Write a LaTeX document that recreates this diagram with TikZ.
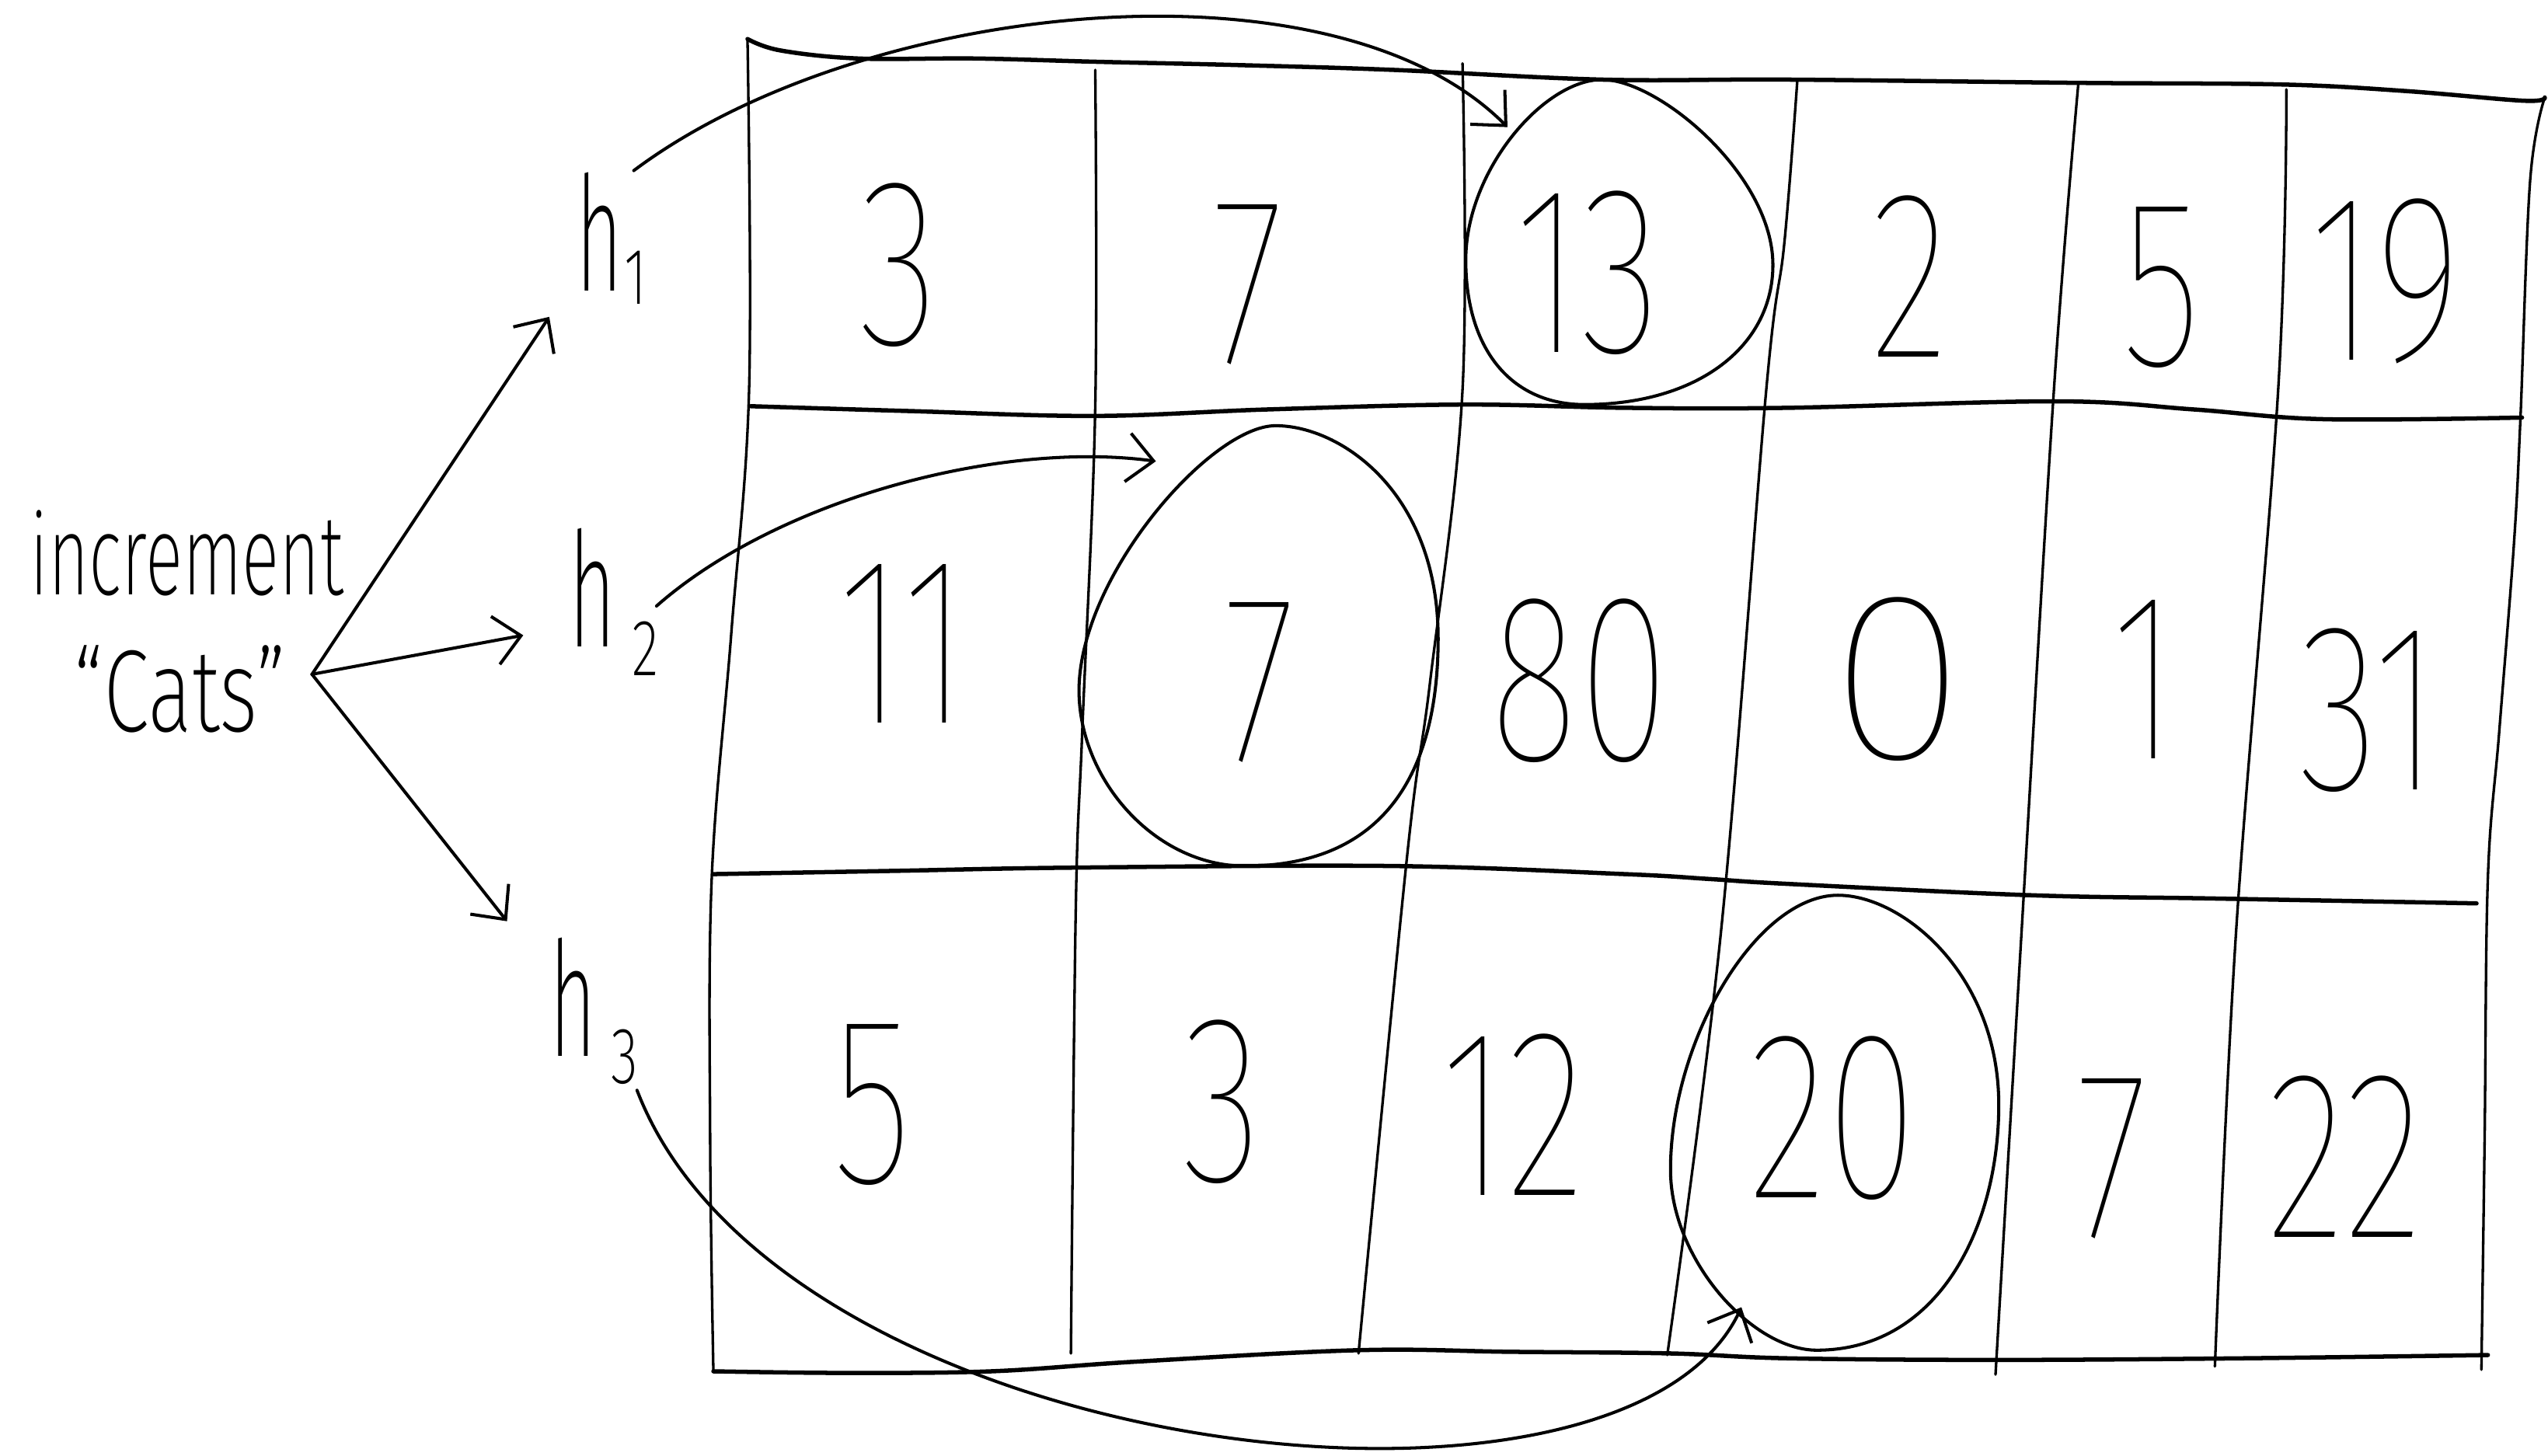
\documentclass[tikz,border=0pt]{standalone}
\usepackage{fontspec}
\setmainfont{Fira Sans}
\newfontfamily\hand{Fira Sans ExtraLight}
\newfontfamily\thin{Fira Sans Thin}
\usetikzlibrary{arrows.meta,shapes.geometric}
\tikzset{
  gridline/.style={line width=0.9pt, line cap=round, line join=round},
  rowline/.style={line width=1.5pt, line cap=round, line join=round},
  ink/.style={line width=1.1pt, line cap=round, line join=round},
  ring/.style={ellipse, inner sep=0pt},
  egg/.style={line width=1.1pt, line join=round},
  cell/.style={inner sep=0pt, font=\thin\fontsize{84}{84}\selectfont},
  hlabel/.style={inner sep=0pt, anchor=base west, font=\hand\fontsize{56}{56}\selectfont},
  barb/.style={-{Straight Barb[length=3.2mm,width=6mm]}},
}
\newcommand{\dg}[1]{\scalebox{0.7}[1]{#1}}
\newcommand{\hsub}[3]{\scalebox{0.5}[1]{h}\hspace{#3}\raisebox{#2}{\fontsize{28}{28}\selectfont\scalebox{0.7}[1]{#1}}}
\begin{document}
\begin{tikzpicture}[x=0.2mm,y=-0.2mm]
\useasboundingbox (0,0) rectangle (1568,896);

% ---- grid ----
% outer frame
\draw[rowline] plot[smooth,tension=0.6] coordinates {(460,24) (480,31) (528,36) (600,36) (674,38) (760,40) (857,43) (986,49) (1100,49) (1279,51) (1404,52) (1480,56) (1553,62) (1566,60)};
\draw[gridline] plot[smooth,tension=0.6] coordinates {(1566,60) (1557,111) (1551,258) (1547,335) (1538,450) (1531,540) (1529,700) (1527,843)};
\draw[rowline] plot[smooth,tension=0.6] coordinates {(439,844) (520,845) (610,844) (700,838) (836,831) (930,832) (1028,833) (1100,836) (1230,837) (1380,836) (1531,834)};
\draw[gridline] plot[smooth,tension=0.6] coordinates {(460,24) (461,239) (450,390) (438,540) (437,700) (439,844)};
% row separators
\draw[rowline] plot[smooth,tension=0.6] coordinates {(462,250) (560,253) (674,256) (780,252) (900,249) (1000,251) (1100,251) (1266,247) (1350,252) (1430,258) (1552,257)};
\draw[rowline] plot[smooth,tension=0.6] coordinates {(439,538) (550,536) (661,534) (857,533) (1000,538) (1052,541) (1100,544) (1250,551) (1362,553) (1524,556)};
% column separators
\draw[gridline] plot[smooth,tension=0.6] coordinates {(674,43) (674,250) (666,450) (662,560) (659,833)};
\draw[gridline] plot[smooth,tension=0.6] coordinates {(900,39) (900,240) (880,420) (866,526) (836,833)};
\draw[gridline] plot[smooth,tension=0.6] coordinates {(1106,50) (1098,150) (1087,239) (1059,574) (1026,834)};
\draw[gridline] plot[smooth,tension=0.6] coordinates {(1279,51) (1264,239) (1244,574) (1228,846)};
\draw[gridline] plot[smooth,tension=0.6] coordinates {(1407,55) (1402,239) (1376,574) (1363,841)};

% ---- numbers ----
\node[cell] (r1c1) at (553,163) {\dg{3}};
\node[cell] (r1c2) at (768,175) {\dg{7}};
\node[cell] (r1c3) at (977,168) {\dg{13}};
\node[cell] (r1c4) at (1175,170) {\dg{2}};
\node[cell] (r1c5) at (1330,177) {\dg{5}};
\node[cell] (r1c6) at (1468,173) {\dg{19}};
\node[cell] (r2c1) at (556,396) {\dg{11}};
\node[cell] (r2c2) at (775,420) {\dg{7}};
\node[cell] (r2c3) at (972,419) {\dg{80}};
\node[cell] (r2c4) at (1168,418) {\scalebox{1.05}[1]{0}};
\node[cell] (r2c5) at (1320,418) {\dg{1}};
\node[cell] (r2c6) at (1458,437) {\dg{31}};
\node[cell] (r3c1) at (537,680) {\dg{5}};
\node[cell] (r3c2) at (752,678) {\dg{3}};
\node[cell] (r3c3) at (931,686) {\dg{12}};
\node[cell] (r3c4) at (1128,688) {\dg{20}};
\node[cell] (r3c5) at (1300,713) {\dg{7}};
\node[cell] (r3c6) at (1443,712) {\dg{22}};

% ---- rings (named ellipses for anchors, drawn as hand-made eggs) ----
\node[ring, minimum width=38.4mm, minimum height=40mm] (c13) at (996,149) {};
\node[ring, minimum width=44.4mm, minimum height=54.6mm] (c7) at (774,397) {};
\node[ring, minimum width=40mm, minimum height=56.2mm] (c20) at (1130,690) {};
\draw[egg] (986,49) .. controls (1021,49) and (1091,108) .. (1091,163)
  .. controls (1091,213) and (1045,249) .. (975,249)
  .. controls (930,249) and (902,215) .. (902,160)
  .. controls (902,105) and (950,49) .. cycle;
\draw[egg] (785,262) .. controls (825,262) and (885,303) .. (885,393)
  .. controls (885,463) and (861,533) .. (766,533)
  .. controls (711,533) and (664,480) .. (664,425)
  .. controls (664,355) and (745,262) .. cycle;
\draw[egg] (1131,551) .. controls (1171,551) and (1230,600) .. (1230,680)
  .. controls (1230,755) and (1193,831) .. (1118,831)
  .. controls (1078,831) and (1028,775) .. (1028,720)
  .. controls (1028,640) and (1081,551) .. cycle;

% ---- left labels ----
\node[inner sep=0pt, anchor=base west] (inc) at (18,366) {\resizebox{38.6mm}{10.4mm}{\hand\fontsize{40}{40}\selectfont increment}};
\node[inner sep=0pt, anchor=base west] (cats) at (45,450) {\resizebox{26.2mm}{10.6mm}{\hand\fontsize{40}{40}\selectfont “Cats”}};
\node[hlabel] (h1) at (354,179) {\hsub{1}{-1.6mm}{0.2mm}};
\node[hlabel] (h2) at (350,398) {\hsub{2}{-3.6mm}{2.0mm}};
\node[hlabel] (h3) at (338,650) {\hsub{3}{-3.4mm}{1.8mm}};

% ---- connectors ----
\coordinate (src) at (192,415);
\coordinate (t1) at (338,195);
\coordinate (t2) at (322,391);
\coordinate (t3) at (312,567);
\draw[ink,barb] (src) -- (t1);
\draw[ink,barb] (src) -- (t2);
\draw[ink,barb] (src) -- (t3);

\coordinate (s1) at (390,105);
\coordinate (s2) at (404,373);
\coordinate (s3) at (392,671);
\draw[ink,barb] (s1) .. controls (530,0) and (820,-30) .. (c13.134);
\draw[ink,barb] (s2) .. controls (479,307) and (616,271) .. (c7.119);
\draw[ink,barb] (s3) .. controls (480,900) and (1000,960) .. (c20.243);
\end{tikzpicture}
\end{document}
